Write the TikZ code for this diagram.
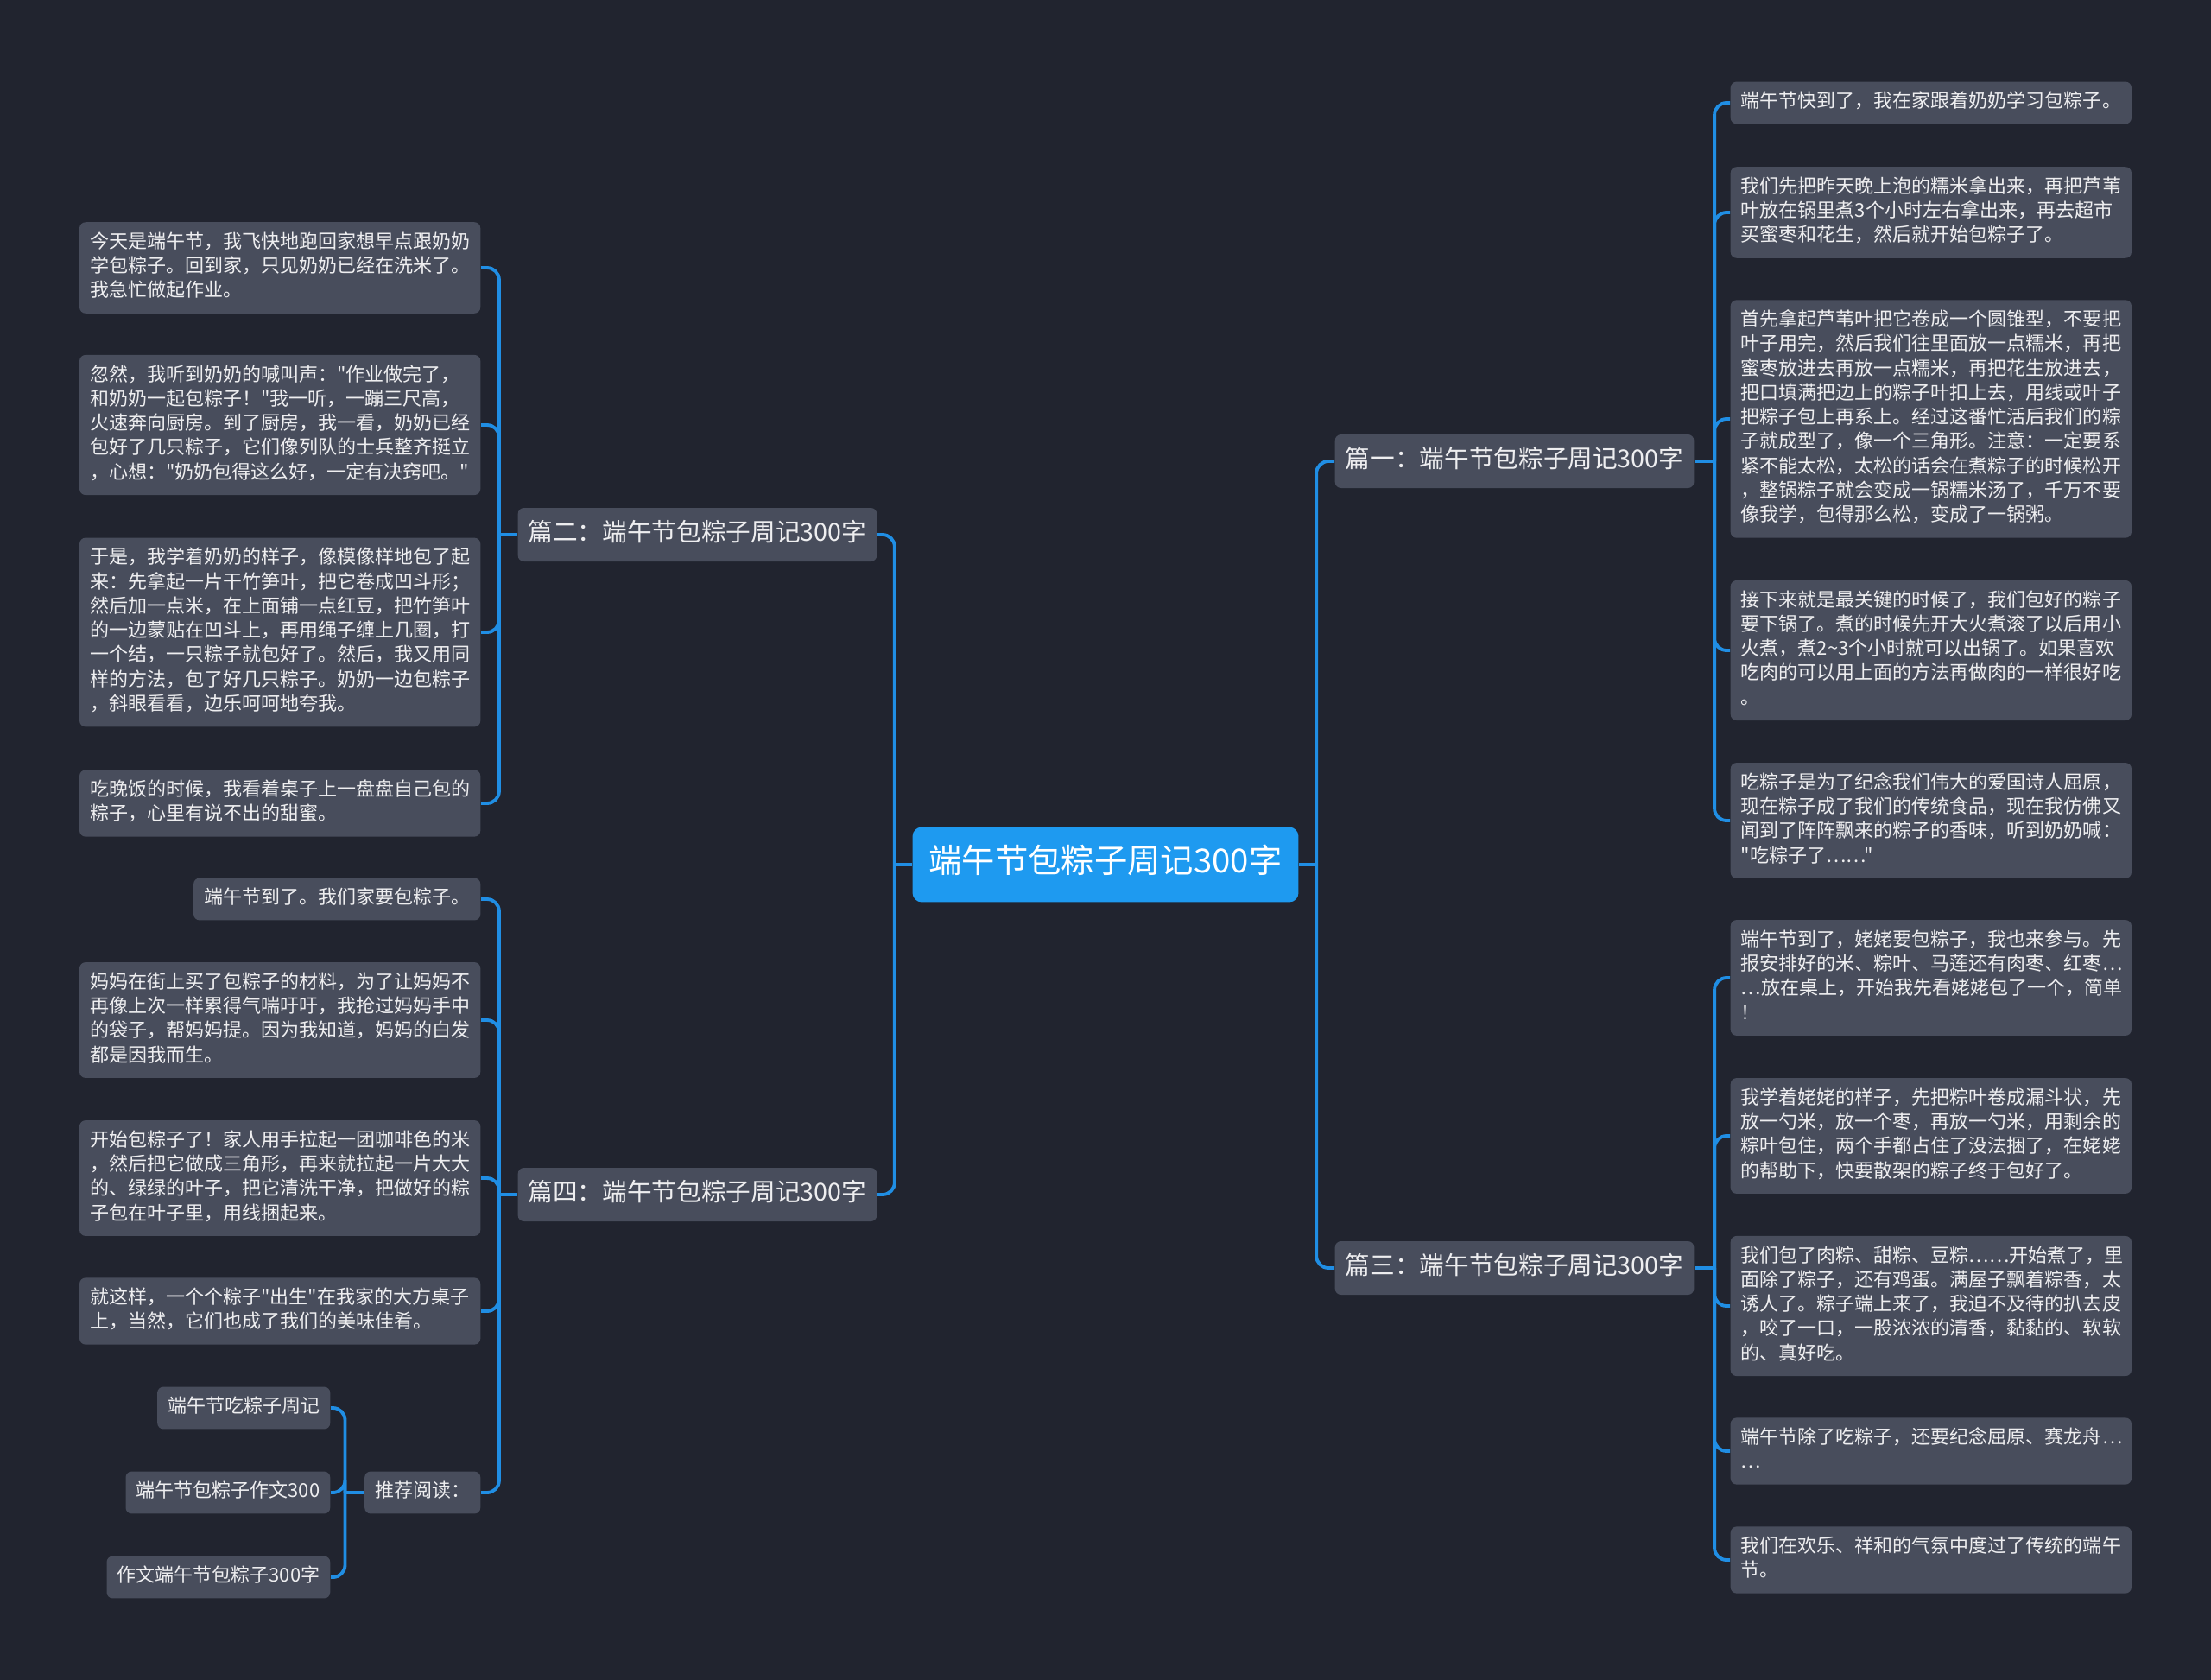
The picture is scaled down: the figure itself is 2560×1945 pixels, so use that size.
\documentclass[tikz,border=0pt]{standalone}
\usepackage{fontspec}
\newfontfamily\cjk{Noto Sans CJK SC}
\usepackage{xcolor}
\definecolor{mmbg}{RGB}{33,36,47}
\definecolor{mmbox}{RGB}{72,77,92}
\definecolor{mmblue}{RGB}{30,154,240}
\definecolor{mmline}{RGB}{32,142,228}
\definecolor{mmtext}{RGB}{238,238,240}
\usetikzlibrary{positioning}
\setlength{\parindent}{0pt}

\begin{document}
\begin{tikzpicture}[x=0.01cm, y=-0.01cm,
  leaf/.style={fill=mmbox, text=mmtext, rounded corners=2pt, align=left,
    font=\cjk\fontsize{6.26pt}{8.05pt}\selectfont, inner xsep=0.12cm, inner ysep=0.103cm,
    execute at begin node=\strut, execute at end node=\strut},
  para/.style={leaf, text width=4.4cm},
  branch/.style={fill=mmbox, text=mmtext, rounded corners=2pt,
    font=\cjk\fontsize{8.15pt}{10.4pt}\selectfont, inner xsep=0.12cm, inner ysep=0.127cm,
    execute at begin node=\strut},
  root/.style={fill=mmblue, text=white, rounded corners=3pt,
    font=\cjk\fontsize{10.9pt}{13.6pt}\selectfont, inner xsep=0.19cm, inner ysep=0.195cm,
    execute at begin node=\strut},
  link/.style={draw=mmline, line width=1.1pt},
  elbow/.style={link, rounded corners=4pt}]

% background
\fill[mmbg] (0,0) rectangle (2560,1945);

% --- Centre ---
\node[root] (root) at (1280,1001) {端午节包粽子周记300字};

% --- Branches ---
\node[branch, anchor=west] (b1) at (1545,534) {篇一：端午节包粽子周记300字};
\node[branch, anchor=west] (b3) at (1545,1468) {篇三：端午节包粽子周记300字};
\node[branch, anchor=east] (b2) at (1016,619) {篇二：端午节包粽子周记300字};
\node[branch, anchor=east] (b4) at (1016,1383) {篇四：端午节包粽子周记300字};

% --- Right leaves: 篇一 ---
\node[para, anchor=west] (r1) at (2003,119) {端午节快到了，我在家跟着奶奶学习包粽子。};
\node[para, anchor=west] (r2) at (2003,246) {我们先把昨天晚上泡的糯米拿出来，再把芦苇\\叶放在锅里煮3个小时左右拿出来，再去超市\\买蜜枣和花生，然后就开始包粽子了。};
\node[para, anchor=west] (r3) at (2003,485) {首先拿起芦苇叶把它卷成一个圆锥型，不要把\\叶子用完，然后我们往里面放一点糯米，再把\\蜜枣放进去再放一点糯米，再把花生放进去，\\把口填满把边上的粽子叶扣上去，用线或叶子\\把粽子包上再系上。经过这番忙活后我们的粽\\子就成型了，像一个三角形。注意：一定要系\\紧不能太松，太松的话会在煮粽子的时候松开\\，整锅粽子就会变成一锅糯米汤了，千万不要\\像我学，包得那么松，变成了一锅粥。};
\node[para, anchor=west] (r4) at (2003,753) {接下来就是最关键的时候了，我们包好的粽子\\要下锅了。煮的时候先开大火煮滚了以后用小\\火煮，煮2\textasciitilde 3个小时就可以出锅了。如果喜欢\\吃肉的可以用上面的方法再做肉的一样很好吃\\。};
\node[para, anchor=west] (r5) at (2003,950) {吃粽子是为了纪念我们伟大的爱国诗人屈原，\\现在粽子成了我们的传统食品，现在我仿佛又\\闻到了阵阵飘来的粽子的香味，听到奶奶喊：\\"吃粽子了……"};

% --- Right leaves: 篇三 ---
\node[para, anchor=west] (r6) at (2003,1132) {端午节到了，姥姥要包粽子，我也来参与。先\\报安排好的米、粽叶、马莲还有肉枣、红枣…\\…放在桌上，开始我先看姥姥包了一个，简单\\！};
\node[para, anchor=west] (r7) at (2003,1315) {我学着姥姥的样子，先把粽叶卷成漏斗状，先\\放一勺米，放一个枣，再放一勺米，用剩余的\\粽叶包住，两个手都占住了没法捆了，在姥姥\\的帮助下，快要散架的粽子终于包好了。};
\node[para, anchor=west] (r8) at (2003,1512) {我们包了肉粽、甜粽、豆粽……开始煮了，里\\面除了粽子，还有鸡蛋。满屋子飘着粽香，太\\诱人了。粽子端上来了，我迫不及待的扒去皮\\，咬了一口，一股浓浓的清香，黏黏的、软软\\的、真好吃。};
\node[para, anchor=west] (r9) at (2003,1680) {端午节除了吃粽子，还要纪念屈原、赛龙舟…\\…};
\node[para, anchor=west] (r10) at (2003,1806) {我们在欢乐、祥和的气氛中度过了传统的端午\\节。};

% --- Left leaves: 篇二 ---
\node[para, anchor=east] (l1) at (557,310) {今天是端午节，我飞快地跑回家想早点跟奶奶\\学包粽子。回到家，只见奶奶已经在洗米了。\\我急忙做起作业。};
\node[para, anchor=east] (l2) at (557,492) {忽然，我听到奶奶的喊叫声："作业做完了，\\和奶奶一起包粽子！"我一听，一蹦三尺高，\\火速奔向厨房。到了厨房，我一看，奶奶已经\\包好了几只粽子，它们像列队的士兵整齐挺立\\，心想："奶奶包得这么好，一定有决窍吧。"};
\node[para, anchor=east] (l3) at (557,732) {于是，我学着奶奶的样子，像模像样地包了起\\来：先拿起一片干竹笋叶，把它卷成凹斗形；\\然后加一点米，在上面铺一点红豆，把竹笋叶\\的一边蒙贴在凹斗上，再用绳子缠上几圈，打\\一个结，一只粽子就包好了。然后，我又用同\\样的方法，包了好几只粽子。奶奶一边包粽子\\，斜眼看看，边乐呵呵地夸我。};
\node[para, anchor=east] (l4) at (557,930) {吃晚饭的时候，我看着桌子上一盘盘自己包的\\粽子，心里有说不出的甜蜜。};

% --- Left leaves: 篇四 ---
\node[leaf, anchor=east] (l5) at (557,1041) {端午节到了。我们家要包粽子。};
\node[para, anchor=east] (l6) at (557,1181) {妈妈在街上买了包粽子的材料，为了让妈妈不\\再像上次一样累得气喘吁吁，我抢过妈妈手中\\的袋子，帮妈妈提。因为我知道，妈妈的白发\\都是因我而生。};
\node[para, anchor=east] (l7) at (557,1364) {开始包粽子了！家人用手拉起一团咖啡色的米\\，然后把它做成三角形，再来就拉起一片大大\\的、绿绿的叶子，把它清洗干净，把做好的粽\\子包在叶子里，用线捆起来。};
\node[para, anchor=east] (l8) at (557,1518) {就这样，一个个粽子"出生"在我家的大方桌子\\上，当然，它们也成了我们的美味佳肴。};
\node[leaf, anchor=east] (rec) at (557,1728) {推荐阅读：};

% recommended reading
\node[leaf, anchor=east] (s1) at (383,1630) {端午节吃粽子周记};
\node[leaf, anchor=east] (s2) at (383,1728) {端午节包粽子作文300};
\node[leaf, anchor=east] (s3) at (383,1826) {作文端午节包粽子300字};

% --- Connectors ---
\path (root.east) ++(20,0) coordinate (rj);
\path (root.west) ++(-20,0) coordinate (lj);
\draw[link] (root.east) -- (rj);
\draw[link] (root.west) -- (lj);
\draw[elbow] (rj) |- (b1.west);
\draw[elbow] (rj) |- (b3.west);
\draw[elbow] (lj) |- (b2.east);
\draw[elbow] (lj) |- (b4.east);

\path (b1.east) ++(23,0) coordinate (b1j);
\draw[link] (b1.east) -- (b1j);
\draw[elbow] (b1j) |- (r1.west);
\draw[elbow] (b1j) |- (r2.west);
\draw[elbow] (b1j) |- (r3.west);
\draw[elbow] (b1j) |- (r4.west);
\draw[elbow] (b1j) |- (r5.west);

\path (b3.east) ++(23,0) coordinate (b3j);
\draw[link] (b3.east) -- (b3j);
\draw[elbow] (b3j) |- (r6.west);
\draw[elbow] (b3j) |- (r7.west);
\draw[elbow] (b3j) |- (r8.west);
\draw[elbow] (b3j) |- (r9.west);
\draw[elbow] (b3j) |- (r10.west);

\path (b2.west) ++(-21,0) coordinate (b2j);
\draw[link] (b2.west) -- (b2j);
\draw[elbow] (b2j) |- (l1.east);
\draw[elbow] (b2j) |- (l2.east);
\draw[elbow] (b2j) |- (l3.east);
\draw[elbow] (b2j) |- (l4.east);

\path (b4.west) ++(-21,0) coordinate (b4j);
\draw[link] (b4.west) -- (b4j);
\draw[elbow] (b4j) |- (l5.east);
\draw[elbow] (b4j) |- (l6.east);
\draw[elbow] (b4j) |- (l7.east);
\draw[elbow] (b4j) |- (l8.east);
\draw[elbow] (b4j) |- (rec.east);

\path (rec.west) ++(-22,0) coordinate (recj);
\draw[link] (rec.west) -- (recj);
\draw[elbow] (recj) |- (s1.east);
\draw[elbow] (recj) |- (s2.east);
\draw[elbow] (recj) |- (s3.east);

\end{tikzpicture}
\end{document}
